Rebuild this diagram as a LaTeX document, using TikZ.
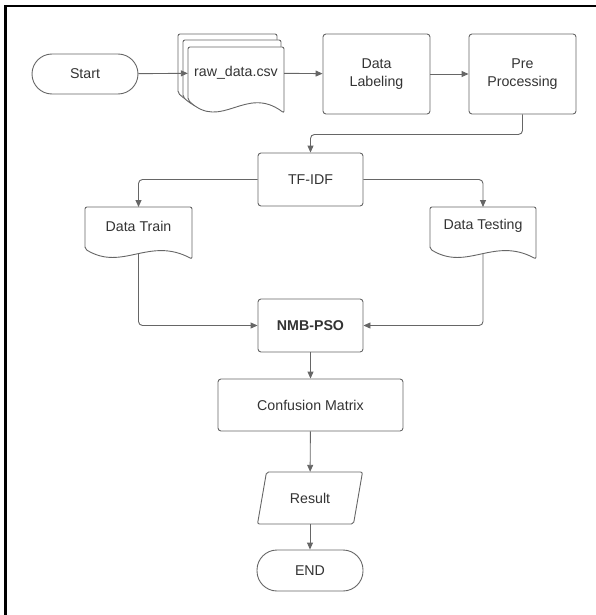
\documentclass[tikz,border=0pt]{standalone}
\usepackage{fontspec}
\setmainfont{Liberation Sans}
\usetikzlibrary{arrows.meta}
\definecolor{ln}{HTML}{666666}
\definecolor{tx}{HTML}{333333}
\begin{document}
\begin{tikzpicture}[x=1pt,y=-1pt,
  txtfont/.style={font=\fontsize{14.2}{18}\selectfont},
  box/.style={draw=ln, line width=0.9pt, rounded corners=3pt, fill=white, text=tx, align=center, inner sep=0pt, txtfont},
  term/.style={box, rounded corners=20pt},
  lbl/.style={text=tx, inner sep=0pt, align=center, txtfont},
  shapeline/.style={draw=ln, line width=0.9pt, fill=white, rounded corners=2pt},
  conn/.style={draw=ln, line width=0.9pt, -{Triangle[length=7pt,width=6pt]}, rounded corners=4pt}]
\useasboundingbox (0,0) rectangle (596,615);
% frame
\draw[line width=2.8pt] (596,6) -- (5.4,6) -- (5.4,615);

% Start
\node[term, minimum width=106pt, minimum height=40pt] (start) at (85,74) {Start};

% raw_data.csv stacked documents
\draw[shapeline] (178,93) -- (178,34) -- (277,34) -- (277,106)
  .. controls (237.4,77) and (212.7,125) .. (178,93) -- cycle;
\draw[shapeline] (183,97) -- (183,40) -- (281,40) -- (281,110)
  .. controls (241.8,81) and (217.3,129) .. (183,97) -- cycle;
\draw[shapeline] (188,100) -- (188,47) -- (284,47) -- (284,113)
  .. controls (245.6,84) and (221.6,132) .. (188,100) -- cycle;
\node[lbl, minimum width=96pt] (raw) at (236,73) {raw\_data.csv};

% boxes
\node[box, minimum width=107pt, minimum height=80pt] (lab) at (376.5,74) {Data\\Labeling};
\node[box, minimum width=107pt, minimum height=80pt] (pre) at (522.5,74) {Pre\\Processing};
\node[box, minimum width=105pt, minimum height=53pt] (tf) at (310.5,179.5) {TF-IDF};

% Data Train document
\draw[shapeline] (85,249) -- (85,207) -- (192,207) -- (192,259)
  .. controls (149,236) and (122.5,272) .. (85,249) -- cycle;
\node[lbl] (train) at (138.5,226) {Data Train};
\coordinate (trainTop) at (138.5,207);
\coordinate (trainBot) at (138.5,253.6);

% Data Testing document
\draw[shapeline] (430,249) -- (430,207) -- (536,207) -- (536,259)
  .. controls (493.6,236) and (467.1,272) .. (430,249) -- cycle;
\node[lbl] (test) at (483,226) {Data Testing};
\coordinate (testTop) at (483,207);
\coordinate (testBot) at (483,253.6);

\node[box, minimum width=105pt, minimum height=53pt, font=\fontsize{14.2}{18}\selectfont\bfseries] (nmb) at (310.5,325.5) {NMB-PSO};
\node[box, minimum width=185pt, minimum height=52pt] (cm) at (310.5,405) {Confusion Matrix};

% Result parallelogram
\draw[shapeline] (266.5,472) -- (362.5,472) -- (353.5,524) -- (257.5,524) -- cycle;
\node[lbl, minimum width=96pt, minimum height=52pt] (res) at (310,498) {Result};

\node[term, minimum width=106pt, minimum height=41pt] (end) at (310,570.5) {END};

% connectors
\draw[conn] (start) -- (raw);
\draw[conn] (raw) -- (lab);
\draw[conn] (lab) -- (pre);
\draw[conn] (pre.south) -- ++(0,20) -| (tf.north);
\draw[conn] (tf.west) -| (trainTop);
\draw[conn] (tf.east) -| (testTop);
\draw[conn] (trainBot) |- (nmb.west);
\draw[conn] (testBot) |- (nmb.east);
\draw[conn] (nmb) -- (cm);
\draw[conn] (cm) -- (res);
\draw[conn] (res) -- (end);
\end{tikzpicture}
\end{document}
